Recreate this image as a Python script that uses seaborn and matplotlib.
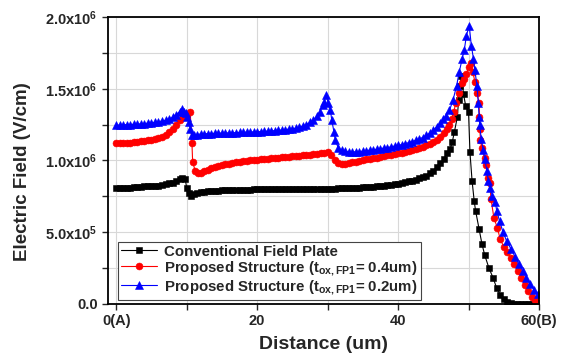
import numpy as np
import matplotlib
matplotlib.use("Agg")
import matplotlib.pyplot as plt
import matplotlib.ticker as mticker
import pandas as pd
import seaborn as sns

sns.set_style("white")
plt.rcParams.update({
    "font.family": ["Liberation Sans", "DejaVu Sans"],
    "font.weight": "bold",
    "mathtext.fontset": "custom",
    "mathtext.rm": "Liberation Sans:bold",
    "mathtext.bf": "Liberation Sans:bold",
    "mathtext.it": "Liberation Sans:bold",
})

# Distance (um) and field (x1e6 V/cm)
conv_x = [0, 0.5, 1, 1.5, 2, 2.5, 3, 3.5, 4, 4.5, 5, 5.5, 6, 6.5, 7, 7.5, 8, 8.5, 9,
          9.4, 9.8, 10.0, 10.3, 10.6, 11.0, 11.5, 12,
          12.5, 13, 13.5, 14, 14.5, 15, 15.5, 16, 16.5, 17, 17.5, 18, 18.5, 19, 19.5,
          20, 20.5, 21, 21.5, 22, 22.5, 23, 23.5, 24, 24.5, 25, 25.5, 26, 26.5, 27, 27.5, 28, 28.5, 29, 29.5,
          30, 30.5, 31, 31.5, 32, 32.5, 33, 33.5, 34, 34.5, 35, 35.5, 36, 36.5, 37, 37.5, 38, 38.5, 39, 39.5,
          40, 40.5, 41, 41.5, 42, 42.5, 43, 43.5, 44, 44.5, 45, 45.5, 46, 46.5, 47,
          47.4, 47.7, 48.0, 48.4, 48.6, 48.8, 49.0, 49.3, 49.6, 50.0, 50.2, 50.5, 50.8, 51.0,
          51.5, 51.9, 52.3, 52.9, 53.5, 54.0, 54.5, 55.0, 55.5, 56.0, 56.5,
          57, 57.5, 58, 58.5, 59, 59.5, 60]
conv_y = [0.81, 0.81, 0.81, 0.81, 0.81, 0.815, 0.815, 0.815, 0.82, 0.82, 0.82, 0.825, 0.825, 0.83, 0.835, 0.84, 0.845, 0.855, 0.87,
          0.88, 0.87, 0.81, 0.77, 0.755, 0.765, 0.772, 0.778,
          0.781, 0.784, 0.786, 0.788, 0.79, 0.791, 0.792, 0.793, 0.794, 0.795, 0.796, 0.796, 0.797, 0.797, 0.798,
          0.798, 0.798, 0.799, 0.799, 0.799, 0.8, 0.8, 0.8, 0.8, 0.8, 0.8, 0.8, 0.8, 0.801, 0.801, 0.801, 0.802, 0.802, 0.802, 0.803,
          0.803, 0.804, 0.804, 0.805, 0.806, 0.807, 0.808, 0.809, 0.81, 0.811, 0.812, 0.814, 0.816, 0.818, 0.82, 0.822, 0.825, 0.828, 0.831, 0.835,
          0.839, 0.843, 0.848, 0.854, 0.86, 0.867, 0.875, 0.884, 0.895, 0.91, 0.93, 0.955, 0.98, 1.01, 1.05,
          1.08, 1.13, 1.2, 1.30, 1.42, 1.52, 1.59, 1.46, 1.38, 1.34, 1.06, 0.86, 0.72, 0.65,
          0.52, 0.42, 0.34, 0.25, 0.18, 0.11, 0.065, 0.035, 0.015, 0.006, 0.002,
          0, 0, 0, 0, 0, 0, 0]

fp04_x = [0, 0.5, 1, 1.5, 2, 2.5, 3, 3.5, 4, 4.5, 5, 5.5, 6, 6.5, 7, 7.5, 8, 8.5, 9,
          9.5, 10.0, 10.5, 10.75, 10.85, 11.2, 11.6, 12.0, 12.5, 13, 13.5, 14, 14.5, 15, 15.5, 16, 16.5,
          17, 17.5, 18, 18.5, 19, 19.5, 20, 20.5, 21, 21.5, 22, 22.5, 23, 23.5, 24, 24.5, 25, 25.5,
          26, 26.5, 27, 27.5, 28, 28.5, 29, 29.5, 30, 30.5, 31, 31.5, 32, 32.5, 33, 33.5, 34, 34.5,
          35, 35.5, 36, 36.5, 37, 37.5, 38, 38.5, 39, 39.5, 40, 40.5, 41, 41.5, 42, 42.5, 43, 43.5,
          44, 44.5, 45, 45.5, 46, 46.5, 47, 47.3, 47.6, 47.9, 48.2, 48.6, 49.1, 49.4, 49.7, 50.0,
          50.3, 50.6, 50.9, 51.2, 51.5, 51.55, 51.6, 51.7, 51.9, 52.3, 52.5, 52.8, 53.0, 53.2, 53.6,
          54.1, 54.5, 55.0, 55.5, 56.0, 56.5, 57.0, 57.5, 58.0, 58.5, 59.0, 59.5, 60]
fp04_y = [1.12, 1.12, 1.12, 1.122, 1.125, 1.127, 1.13, 1.133, 1.137, 1.14, 1.145, 1.15, 1.155, 1.165, 1.18, 1.20, 1.22, 1.25, 1.28,
          1.30, 1.32, 1.34, 1.12, 0.99, 0.93, 0.915, 0.915, 0.925, 0.935, 0.945, 0.953, 0.96, 0.967, 0.973, 0.978, 0.983,
          0.987, 0.99, 0.994, 0.997, 1.0, 1.003, 1.005, 1.008, 1.01, 1.012, 1.015, 1.017, 1.02, 1.022, 1.024, 1.026, 1.028, 1.03,
          1.033, 1.035, 1.037, 1.04, 1.043, 1.047, 1.05, 1.055, 1.058, 1.04, 1.005, 0.985, 0.978, 0.978, 0.982, 0.987, 0.992, 0.997,
          1.002, 1.007, 1.012, 1.017, 1.02, 1.025, 1.03, 1.035, 1.04, 1.045, 1.05, 1.055, 1.06, 1.065, 1.072, 1.078, 1.085, 1.095,
          1.105, 1.115, 1.13, 1.145, 1.165, 1.19, 1.22, 1.25, 1.29, 1.34, 1.40, 1.47, 1.54, 1.57, 1.60, 1.65,
          1.68, 1.62, 1.55, 1.47, 1.40, 1.30, 1.22, 1.14, 1.09, 1.02, 0.965, 0.88, 0.84, 0.73, 0.60,
          0.53, 0.45, 0.40, 0.36, 0.32, 0.28, 0.23, 0.18, 0.13, 0.09, 0.05, 0.025, 0.01]

fp02_x = [0, 0.5, 1, 1.5, 2, 2.5, 3, 3.5, 4, 4.5, 5, 5.5, 6, 6.5, 7, 7.5, 8, 8.5,
          9.0, 9.3, 9.6, 9.9, 10.1, 10.3, 10.5, 10.7, 11.0, 11.5, 12,
          12.5, 13, 13.5, 14, 14.5, 15, 15.5, 16, 16.5, 17, 17.5, 18, 18.5, 19, 19.5, 20, 20.5, 21, 21.5,
          22, 22.5, 23, 23.5, 24, 24.5, 25,
          25.5, 26, 26.5, 27, 27.5, 28, 28.5, 28.9, 29.3, 29.5, 29.8, 30.1, 30.4, 30.6, 30.9, 31.1, 31.5,
          32, 32.5, 33, 33.5, 34, 34.5, 35, 35.5, 36, 36.5, 37, 37.5, 38, 38.5, 39, 39.5, 40, 40.5, 41,
          41.5, 42, 42.5, 43, 43.5, 44, 44.5, 45, 45.5, 46, 46.4, 46.8, 47.3, 47.8, 48.3, 48.7, 49.1, 49.4,
          49.7, 50.1, 50.4, 50.7, 50.9, 51.2, 51.4, 51.5, 51.6, 51.8, 52.1, 52.3, 52.6, 52.8, 53.0, 53.4,
          53.8, 54.0, 54.4, 54.9, 55.4, 56.0, 56.6, 57.1, 57.7, 58.2, 58.7, 59.3, 59.9]
fp02_y = [1.245, 1.247, 1.248, 1.25, 1.25, 1.252, 1.253, 1.255, 1.257, 1.26, 1.262, 1.265, 1.27, 1.275, 1.28, 1.29, 1.30, 1.32,
          1.34, 1.36, 1.34, 1.33, 1.30, 1.27, 1.22, 1.18, 1.175, 1.18, 1.185,
          1.186, 1.187, 1.188, 1.189, 1.19, 1.19, 1.191, 1.192, 1.193, 1.194, 1.195, 1.196, 1.197, 1.198, 1.199, 1.2, 1.201, 1.202, 1.204,
          1.206, 1.208, 1.21, 1.212, 1.215, 1.218, 1.221,
          1.225, 1.23, 1.24, 1.25, 1.265, 1.28, 1.31, 1.34, 1.385, 1.41, 1.455, 1.40, 1.35, 1.28, 1.2, 1.14, 1.09,
          1.07, 1.063, 1.06, 1.06, 1.06, 1.062, 1.065, 1.068, 1.072, 1.075, 1.078, 1.082, 1.086, 1.09, 1.095, 1.1, 1.105, 1.11, 1.117,
          1.124, 1.132, 1.14, 1.15, 1.16, 1.175, 1.19, 1.21, 1.235, 1.26, 1.29, 1.31, 1.35, 1.42, 1.52, 1.62, 1.71, 1.77,
          1.87, 1.94, 1.80, 1.71, 1.63, 1.52, 1.40, 1.30, 1.245, 1.15, 1.07, 1.01, 0.93, 0.86, 0.81, 0.755,
          0.71, 0.65, 0.58, 0.5, 0.44, 0.385, 0.33, 0.28, 0.23, 0.18, 0.14, 0.10, 0.07]

x_ticks = [0, 20, 40, 60]
x_tick_labels = ["0(A)", "20", "40", "60(B)"]
y_ticks = [0, 0.5e6, 1.0e6, 1.5e6, 2.0e6]
y_tick_labels = ["0.0", r"$\mathbf{5.0x10^{5}}$", r"$\mathbf{1.0x10^{6}}$",
                 r"$\mathbf{1.5x10^{6}}$", r"$\mathbf{2.0x10^{6}}$"]

series = [
    (conv_x, conv_y, "Conventional Field Plate", "black", "s", 4.3),
    (fp04_x, fp04_y, r"Proposed Structure ($\mathbf{t_{ox,FP1}}$= 0.4um)", "red", "o", 5.0),
    (fp02_x, fp02_y, r"Proposed Structure ($\mathbf{t_{ox,FP1}}$= 0.2um)", "blue", "^", 5.3),
]

fig = plt.figure(figsize=(5.78, 3.58), dpi=100)
ax = fig.add_axes([0.187, 0.151, 0.7455, 0.8015])

for xs, ys, label, color, marker, ms in series:
    df = pd.DataFrame({"x": xs, "y": np.array(ys) * 1e6})
    sns.lineplot(data=df, x="x", y="y", ax=ax, color=color, marker=marker,
                 markersize=ms, markeredgewidth=0.4, markeredgecolor=color,
                 linewidth=0.8, estimator=None, sort=False, label=label)

ax.set_xlim(-1.15, 60)
ax.set_ylim(0, 2.0e6)
ax.set_xticks(x_ticks)
ax.set_xticklabels(x_tick_labels, fontsize=10.5, fontweight="bold")
ax.set_yticks(y_ticks)
ax.set_yticklabels(y_tick_labels, fontsize=10.5, fontweight="bold")
ax.xaxis.set_minor_locator(mticker.MultipleLocator(10))
ax.yaxis.set_minor_locator(mticker.MultipleLocator(0.25e6))
ax.tick_params(which="both", direction="out", length=4, width=1, bottom=True, left=True)
ax.grid(True, which="both", color="#d8d8d8", linewidth=0.8)
ax.set_axisbelow(True)
for sp in ax.spines.values():
    sp.set_color("black")
    sp.set_linewidth(1.3)

ax.set_xlabel("Distance (um)", fontsize=14, fontweight="bold")
ax.set_ylabel("Electric Field (V/cm)", fontsize=13.5, fontweight="bold")
ax.xaxis.set_label_coords(0.5, -0.112)
ax.yaxis.set_label_coords(-0.178, 0.46)

leg = ax.legend(loc="lower left", bbox_to_anchor=(0.022, 0.015), prop={"weight": "bold", "size": 10.8},
                frameon=True, fancybox=False, edgecolor="#444444", framealpha=1,
                borderpad=0.2, labelspacing=0.05, handlelength=2.4, handletextpad=0.5,
                borderaxespad=0)
leg.get_frame().set_linewidth(0.8)

fig.savefig("out.png", dpi=100)
